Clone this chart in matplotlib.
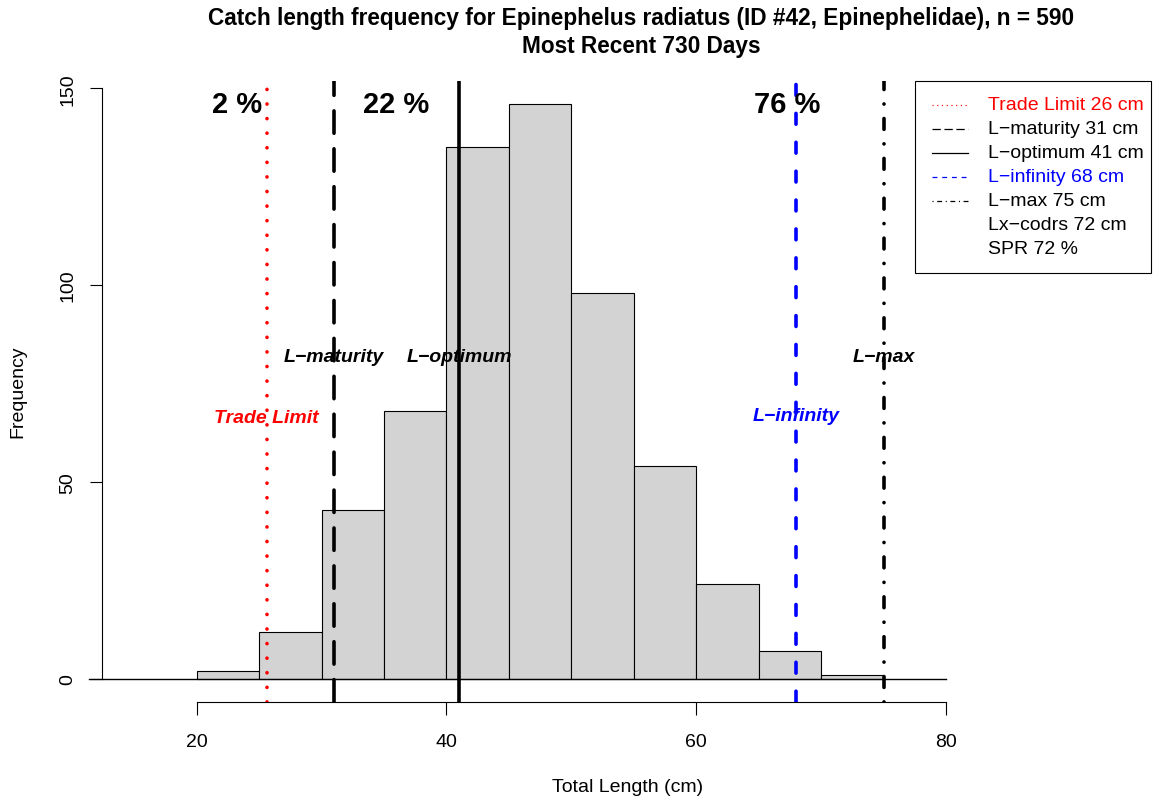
import numpy as np
import matplotlib
matplotlib.use('Agg')
import matplotlib.pyplot as plt
from matplotlib.lines import Line2D
from matplotlib.patches import Rectangle

plt.rcParams['font.family'] = ['Liberation Sans', 'DejaVu Sans']
plt.rcParams['lines.scale_dashes'] = False

# histogram of catch lengths (5 cm bins)
bin_left = [20, 25, 30, 35, 40, 45, 50, 55, 60, 65, 70]
counts = [2, 12, 43, 68, 135, 146, 98, 54, 24, 7, 1]

# reference lengths (cm)
trade_limit = 25.6
l_maturity = 31
l_optimum = 41
l_infinity = 68
l_max = 75
lx_codrs = 72
spr = 72
pct_labels = ['2 %', '22 %', '76 %']
pct_x = [23.2, 36.0, 67.3]

W, H = 1161, 803
fig = plt.figure(figsize=(W / 100, H / 100), dpi=100)

def fx(px):
    return px / W

def fy(py):
    return 1 - py / H

# plot region
ax = fig.add_axes([fx(101.7), fy(703), fx(978.5) - fx(101.7), fy(82) - fy(703)])
ax.set_xlim(12.4, 82.6)
ax.set_ylim(-5.84, 151.84)

ax.bar(bin_left, counts, width=5, align='edge', color='#d3d3d3',
       edgecolor='black', linewidth=0.8, zorder=2)
ax.plot([11.38, 80], [0, 0], color='black', linewidth=1.0, clip_on=False, zorder=3)

lw = 2.6
ax.axvline(trade_limit, color='red', linewidth=lw, dash_capstyle='round',
           linestyle=(0, (0.1, 10.4)), zorder=4)
ax.axvline(l_maturity, color='black', linewidth=lw, dash_capstyle='round',
           linestyle=(0, (16.1, 11.2)), zorder=4)
ax.axvline(l_optimum, color='black', linewidth=lw, zorder=4)
ax.axvline(l_infinity, color='blue', linewidth=lw, dash_capstyle='round',
           linestyle=(0, (7.8, 13.0)), zorder=4)
ax.axvline(l_max, color='black', linewidth=lw, dash_capstyle='round',
           linestyle=(0, (0.1, 10.4, 7.8, 10.4)), zorder=4)

# percentages between reference lines
for lab, x in zip(pct_labels, pct_x):
    ax.text(x, 146, lab, fontsize=21, fontweight='bold', ha='center', va='center', zorder=5)

lab_kw = dict(fontsize=14, fontweight='bold', fontstyle='italic', ha='center', va='center', zorder=5)
ax.text(l_maturity, 81.8, 'L\u2212maturity', **lab_kw)
ax.text(l_optimum, 81.8, 'L\u2212optimum', **lab_kw)
ax.text(l_max, 81.8, 'L\u2212max', **lab_kw)
ax.text(trade_limit, 66.5, 'Trade Limit', color='red', **lab_kw)
ax.text(l_infinity, 66.8, 'L\u2212infinity', color='blue', **lab_kw)

# R-style axes
for s in ['top', 'right']:
    ax.spines[s].set_visible(False)
ax.spines['left'].set_bounds(0, 150)
ax.spines['bottom'].set_bounds(20, 80)
ax.spines['left'].set_linewidth(0.8)
ax.spines['bottom'].set_linewidth(0.8)
ax.set_xticks([20, 40, 60, 80])
ax.set_yticks([0, 50, 100, 150])
ax.tick_params(direction='out', length=9, width=0.8, labelsize=14)
ax.tick_params(axis='x', pad=13)
ax.tick_params(axis='y', pad=9)
for t in ax.get_yticklabels():
    t.set_rotation(90)
    t.set_va('center')

fig.text(fx(18), fy(392), 'Frequency', rotation=90, fontsize=14, ha='center', va='center')
fig.text(fx(628), fy(787.7), 'Total Length (cm)', fontsize=14, ha='center', va='center')
fig.text(fx(641), fy(18), 'Catch length frequency for Epinephelus radiatus (ID #42, Epinephelidae), n = 590',
         fontsize=16.3, fontweight='bold', ha='center', va='center')
fig.text(fx(641), fy(47), 'Most Recent 730 Days', fontsize=16.3, fontweight='bold', ha='center', va='center')

# legend box
fig.patches.append(Rectangle((fx(915), fy(274)), fx(1151) - fx(915), fy(82) - fy(274),
                             transform=fig.transFigure, facecolor='white', edgecolor='black',
                             linewidth=0.8))
leg_items = [
    ('Trade Limit %d cm' % round(trade_limit), 'red', (0, (0.8, 2.6)), 'red'),
    ('L\u2212maturity %d cm' % l_maturity, 'black', (0, (6.0, 2.6)), 'black'),
    ('L\u2212optimum %d cm' % l_optimum, 'black', '-', 'black'),
    ('L\u2212infinity %d cm' % l_infinity, 'blue', (0, (3.5, 3.5)), 'blue'),
    ('L\u2212max %d cm' % l_max, 'black', (0, (0.8, 2.6, 3.5, 2.6)), 'black'),
    ('Lx\u2212codrs %d cm' % lx_codrs, None, None, 'black'),
    ('SPR %d %%' % spr, None, None, 'black'),
]
for i, (lab, lc, ls, tc) in enumerate(leg_items):
    y = 106 + 24 * i
    if lc is not None:
        fig.add_artist(Line2D([fx(932), fx(968)], [fy(y), fy(y)], transform=fig.transFigure,
                              color=lc, linestyle=ls, linewidth=0.9))
    fig.text(fx(988), fy(y), lab, color=tc, fontsize=14, ha='left', va='center')

fig.savefig('out.png', dpi=100)
